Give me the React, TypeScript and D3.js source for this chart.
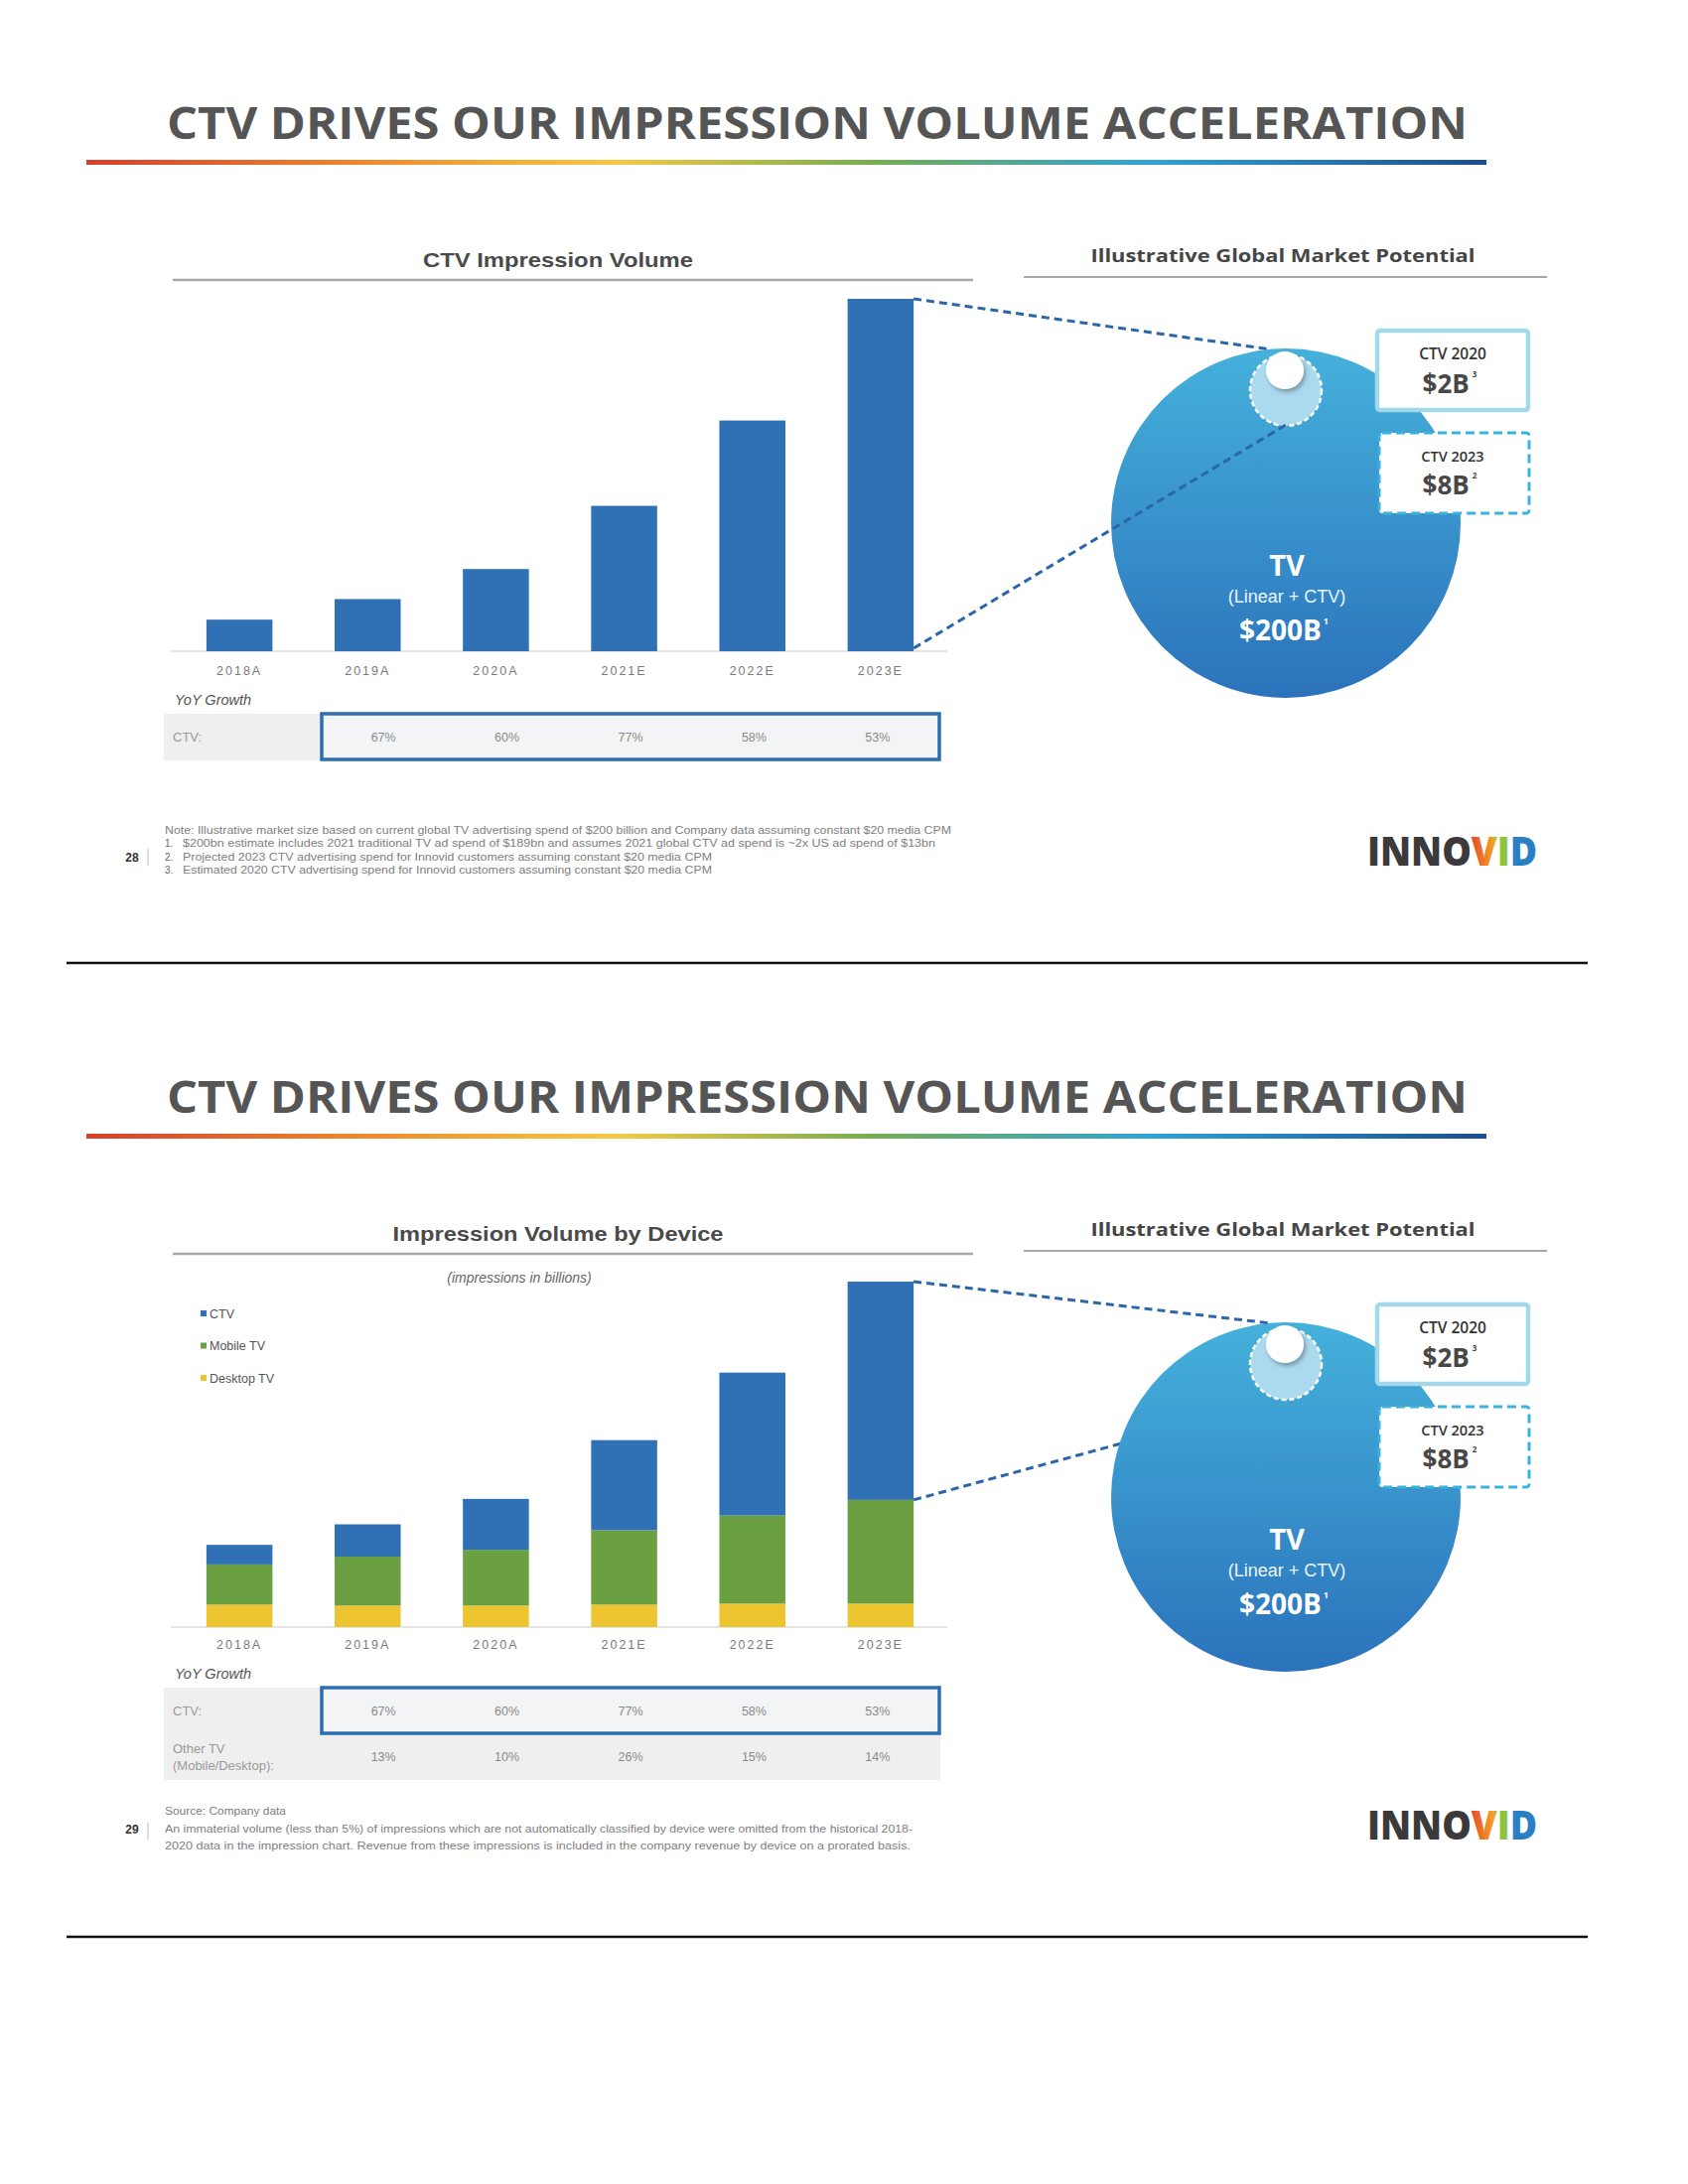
import * as d3 from "d3";
import type { ReactNode } from "react";

const years = ["2018A", "2019A", "2020A", "2021E", "2022E", "2023E"];
const ctvVolume = [2.0, 3.3, 5.2, 9.2, 14.6, 22.3];
const mobileVolume = [4.1, 5.0, 5.7, 7.6, 9.0, 10.6];
const desktopVolume = [2.3, 2.2, 2.2, 2.3, 2.4, 2.4];
const ctvGrowth = ["67%", "60%", "77%", "58%", "53%"];
const otherGrowth = ["13%", "10%", "26%", "15%", "14%"];
const deviceKeys = ["desktop", "mobile", "ctv"];
const legendLabels = ["CTV", "Mobile TV", "Desktop TV"];

const topNotes = [
  "Note: Illustrative market size based on current global TV advertising spend of $200 billion and Company data assuming constant $20 media CPM",
  "$200bn estimate includes 2021 traditional TV ad spend of $189bn and assumes 2021 global CTV ad spend is ~2x US ad spend of $13bn",
  "Projected 2023 CTV advertising spend for Innovid customers assuming constant $20 media CPM",
  "Estimated 2020 CTV advertising spend for Innovid customers assuming constant $20 media CPM",
];
const bottomNotes = [
  "Source:  Company data",
  "An immaterial volume (less than 5%) of impressions which are not automatically classified by device were omitted from the historical 2018-",
  "2020 data in the impression chart. Revenue from these impressions is included in the company revenue by device on a prorated basis.",
];

const BLUE = "#2f71b4";
const GREEN = "#6a9f42";
const YELLOW = "#edc531";
const DEVICE_COLORS: Record<string, string> = { ctv: BLUE, mobile: GREEN, desktop: YELLOW };
const SLIDE_DY = 981;
const SANS = "'Liberation Sans', Arial, sans-serif";
const NARROW = "'Liberation Sans Narrow', 'Liberation Sans', Arial, sans-serif";
const WIDE = "'Open Sans', 'Liberation Sans', sans-serif";

const xBand = d3
  .scaleBand<string>()
  .domain(years)
  .range([173, 955])
  .paddingInner(0.485)
  .paddingOuter(0.27);
const bw = xBand.bandwidth();
const growthCol = d3.scaleBand<string>().domain(years.slice(1)).range([324, 946]);
const last = years[years.length - 1];

// top chart: CTV only
const yCtv = d3.scaleLinear().domain([0, d3.max(ctvVolume)!]).range([656, 301]);

// bottom chart: stacked by device
const deviceRows = years.map((year, i) => ({
  year,
  desktop: desktopVolume[i],
  mobile: mobileVolume[i],
  ctv: ctvVolume[i],
}));
const stacked = d3.stack<any>().keys(deviceKeys)(deviceRows);
const yDev = d3
  .scaleLinear()
  .domain([0, d3.max(stacked[stacked.length - 1], (d) => d[1])!])
  .range([1639, 1291]);

type Row = { label: string[]; values: string[]; boxed?: boolean };

function Frame({
  dy,
  chartTitle,
  titleWidth,
  rows,
  notes,
  numbered,
  pageNo,
  under,
  over,
}: {
  dy: number;
  chartTitle: string;
  titleWidth: number;
  rows: Row[];
  notes: string[];
  numbered: boolean;
  pageNo: string;
  under?: ReactNode;
  over?: ReactNode;
}) {
  const rowH = 46;
  const tableTop = 719;
  return (
    <g transform={`translate(0,${dy})`}>
      <text
        x={168}
        y={140}
        fontFamily={WIDE}
        fontWeight={700}
        fontSize={44}
        fill="#555"
        textLength={1310}
        lengthAdjust="spacingAndGlyphs"
      >
        CTV DRIVES OUR IMPRESSION VOLUME ACCELERATION
      </text>
      <rect x={87} y={161} width={1410} height={5} fill="url(#rainbow)" />

      {/* left chart header */}
      <text
        x={562}
        y={269}
        textAnchor="middle"
        fontFamily={NARROW}
        fontWeight={700}
        fontSize={21}
        fill="#4a4a4a"
        textLength={titleWidth}
        lengthAdjust="spacingAndGlyphs"
      >
        {chartTitle}
      </text>
      <line x1={174} x2={980} y1={282} y2={282} stroke="#a8a8a8" strokeWidth={2.5} />

      {years.map((yr) => (
        <text
          key={yr}
          x={xBand(yr)! + bw / 2}
          y={680}
          textAnchor="middle"
          fontFamily={SANS}
          fontSize={12.5}
          letterSpacing={2}
          fill="#7a7a7a"
        >
          {yr}
        </text>
      ))}
      <text x={176} y={710} fontFamily={SANS} fontStyle="italic" fontSize={14.5} fill="#555">
        YoY Growth
      </text>

      {/* growth table */}
      <rect x={165} y={tableTop} width={782} height={rowH * rows.length + 1} fill="#efefef" />
      {rows.map((r, ri) => {
        const top = tableTop + ri * rowH;
        const cy = top + rowH / 2;
        return (
          <g key={ri}>
            {r.boxed && (
              <rect
                x={growthCol.range()[0]}
                y={top}
                width={growthCol.range()[1] - growthCol.range()[0]}
                height={rowH}
                fill="#f3f4f5"
                stroke="#2d6db2"
                strokeWidth={3.5}
              />
            )}
            {r.label.map((l, li) => (
              <text
                key={li}
                x={174}
                y={cy + 5 + (li - (r.label.length - 1) / 2) * 17}
                fontFamily={NARROW}
                fontSize={13}
                fill="#9a9a9a"
              >
                {l}
              </text>
            ))}
            {r.values.map((v, i) => (
              <text
                key={i}
                x={growthCol(years[i + 1])! + growthCol.bandwidth() / 2}
                y={cy + 5}
                textAnchor="middle"
                fontFamily={NARROW}
                fontSize={12.5}
                fill="#8a8a8a"
              >
                {v}
              </text>
            ))}
          </g>
        );
      })}

      {/* footnotes */}
      <text x={133} y={numbered ? 868 : 866} textAnchor="middle" fontFamily={SANS} fontWeight={700} fontSize={12} fill="#333">
        {pageNo}
      </text>
      <line x1={149} x2={149} y1={855} y2={872} stroke="#bbb" strokeWidth={1} />
      {notes.map((n, i) => {
        const y = (numbered ? 840 : 847) + i * (numbered ? 13.3 : 17.5);
        const indent = numbered && i > 0;
        const widths = numbered ? [792, 758, 533, 533] : [122, 753, 751];
        return (
          <g key={i}>
            {indent && (
              <text x={166} y={y} fontFamily={NARROW} fontSize={10} fill="#666">
                {i}.
              </text>
            )}
            <text
              x={indent ? 184 : 166}
              y={y}
              fontFamily={NARROW}
              fontSize={10}
              fill="#808080"
              textLength={widths[i]}
              lengthAdjust="spacingAndGlyphs"
            >
              {n}
            </text>
          </g>
        );
      })}

      {/* right side: market potential */}
      <text
        x={1292}
        y={264}
        textAnchor="middle"
        fontFamily={WIDE}
        fontWeight={700}
        fontSize={18}
        fill="#454545"
        textLength={387}
        lengthAdjust="spacingAndGlyphs"
      >
        Illustrative Global Market Potential
      </text>
      <line x1={1031} x2={1558} y1={279} y2={279} stroke="#a8a8a8" strokeWidth={2} />
      {under}
      <circle cx={1295} cy={527} r={176} fill="url(#tvGrad)" />
      <circle cx={1295} cy={393} r={36} fill="#abd9ee" stroke="#fff" strokeWidth={2.5} strokeDasharray="5 3" />
      <circle cx={1294} cy={373} r={19} fill="#fff" filter="url(#shadow)" />
      {over}
      <text x={1296} y={580} textAnchor="middle" fontFamily={WIDE} fontWeight={700} fontSize={29} fill="#fff">
        TV
      </text>
      <text x={1296} y={607} textAnchor="middle" fontFamily={SANS} fontSize={18} fill="#eaf5fb">
        (Linear + CTV)
      </text>
      <text x={1293} y={645} textAnchor="middle" fontFamily={WIDE} fontWeight={700} fontSize={28} fill="#fff">
        $200B
        <tspan fontSize={9} dy={-16} dx={2}>
          1
        </tspan>
      </text>

      <rect x={1387} y={333} width={152} height={80} rx={3} fill="#fff" stroke="#a3d8ea" strokeWidth={4.5} />
      <text x={1463} y={362} textAnchor="middle" fontFamily={WIDE} fontWeight={600} fontSize={15.5} fill="#333">
        CTV 2020
      </text>
      <text x={1460} y={396} textAnchor="middle" fontFamily={WIDE} fontWeight={700} fontSize={26} fill="#474747">
        $2B
        <tspan fontSize={8} dy={-16} dx={3}>
          3
        </tspan>
      </text>
      <rect
        x={1389}
        y={436}
        width={151}
        height={81}
        rx={3}
        fill="#fff"
        stroke="#3bb2de"
        strokeWidth={3}
        strokeDasharray="9 5"
      />
      <text x={1463} y={465} textAnchor="middle" fontFamily={WIDE} fontWeight={600} fontSize={14.5} fill="#333">
        CTV 2023
      </text>
      <text x={1460} y={498} textAnchor="middle" fontFamily={WIDE} fontWeight={700} fontSize={26} fill="#474747">
        $8B
        <tspan fontSize={8} dy={-16} dx={3}>
          2
        </tspan>
      </text>

      {/* logo: one text, letters coloured through a hard-stop gradient */}
      <text
        x={1377}
        y={872}
        fontFamily={WIDE}
        fontWeight={800}
        fontSize={40}
        fill="url(#logoFill)"
        textLength={171}
        lengthAdjust="spacingAndGlyphs"
      >
        INNOVID
      </text>

      <line x1={67} x2={1599} y1={970} y2={970} stroke="#111" strokeWidth={2.5} />
    </g>
  );
}

function Dashed({ d }: { d: string }) {
  return <path d={d} fill="none" stroke="#2b66a8" strokeWidth={3} strokeDasharray="8 5" />;
}

export default function App() {
  const lastX = xBand(last)! + bw;
  const lastIdx = years.length - 1;
  const mobileTop = stacked[1][lastIdx][1];
  const totalTop = stacked[2][lastIdx][1];

  return (
    <div style={{ position: "absolute", left: 0, top: 0 }}>
      <svg width={1700} height={2200} style={{ display: "block", background: "#fff" }}>
        <defs>
          <linearGradient id="rainbow" x1="0" x2="1" y1="0" y2="0">
            <stop offset="0" stopColor="#d63f2f" />
            <stop offset="0.2" stopColor="#ee8a2c" />
            <stop offset="0.38" stopColor="#f4c944" />
            <stop offset="0.56" stopColor="#76ad4f" />
            <stop offset="0.76" stopColor="#2ea4d6" />
            <stop offset="1" stopColor="#1c4d90" />
          </linearGradient>
          <linearGradient id="tvGrad" x1="0" x2="0" y1="0" y2="1">
            <stop offset="0" stopColor="#45b1db" />
            <stop offset="1" stopColor="#2b72bb" />
          </linearGradient>
          <linearGradient id="logoFill" gradientUnits="userSpaceOnUse" x1={1377} x2={1548} y1={0} y2={0}>
            <stop offset="0" stopColor="#3a3a3a" />
            <stop offset="0.605" stopColor="#3a3a3a" />
            <stop offset="0.605" stopColor="#e2452c" />
            <stop offset="0.75" stopColor="#f5a623" />
            <stop offset="0.755" stopColor="#8cc43f" />
            <stop offset="0.825" stopColor="#8cc43f" />
            <stop offset="0.825" stopColor="#2a7fc4" />
            <stop offset="1" stopColor="#2a7fc4" />
          </linearGradient>
          <filter id="shadow" x="-50%" y="-50%" width="200%" height="200%">
            <feDropShadow dx={2} dy={3} stdDeviation={2} floodColor="#000" floodOpacity={0.3} />
          </filter>
        </defs>

        {/* slide 28 */}
        <Frame
          dy={0}
          chartTitle="CTV Impression Volume"
          titleWidth={272}
          rows={[{ label: ["CTV:"], values: ctvGrowth, boxed: true }]}
          notes={topNotes}
          numbered
          pageNo="28"
          over={<Dashed d={`M${lastX},${yCtv(0) - 3}L1295,428`} />}
        />
        <line x1={172} x2={954} y1={yCtv(0)} y2={yCtv(0)} stroke="#dcdcdc" strokeWidth={1.5} />
        {years.map((yr, i) => (
          <rect
            key={yr}
            x={xBand(yr)}
            y={yCtv(ctvVolume[i])}
            width={bw}
            height={yCtv(0) - yCtv(ctvVolume[i])}
            fill={BLUE}
          />
        ))}
        <Dashed d={`M${lastX},${yCtv(ctvVolume[lastIdx])}L1280,352`} />

        {/* slide 29 */}
        <Frame
          dy={SLIDE_DY}
          chartTitle="Impression Volume by Device"
          titleWidth={333}
          rows={[
            { label: ["CTV:"], values: ctvGrowth, boxed: true },
            { label: ["Other TV", "(Mobile/Desktop):"], values: otherGrowth },
          ]}
          notes={bottomNotes}
          numbered={false}
          pageNo="29"
          under={<Dashed d={`M${lastX},${yDev(mobileTop) - SLIDE_DY}L1295,428`} />}
        />
        <text
          x={523}
          y={1292}
          textAnchor="middle"
          fontFamily={NARROW}
          fontStyle="italic"
          fontSize={14}
          fill="#666"
        >
          (impressions in billions)
        </text>
        <line x1={172} x2={954} y1={yDev(0)} y2={yDev(0)} stroke="#dcdcdc" strokeWidth={1.5} />
        {stacked.map((s) => (
          <g key={s.key} fill={DEVICE_COLORS[s.key]}>
            {s.map((d, i) => (
              <rect key={i} x={xBand(years[i])} y={yDev(d[1])} width={bw} height={yDev(d[0]) - yDev(d[1])} />
            ))}
          </g>
        ))}
        <Dashed d={`M${lastX},${yDev(totalTop)}L1280,${352 + SLIDE_DY}`} />

        {/* legend */}
        {["ctv", "mobile", "desktop"].map((k, i) => (
          <g key={k} transform={`translate(205,${1323 + i * 32.5})`}>
            <rect x={-3} y={-3} width={6} height={6} fill={DEVICE_COLORS[k]} />
            <text x={6} y={4.5} fontFamily={NARROW} fontSize={12.5} fill="#555">
              {legendLabels[i]}
            </text>
          </g>
        ))}
      </svg>
    </div>
  );
}
